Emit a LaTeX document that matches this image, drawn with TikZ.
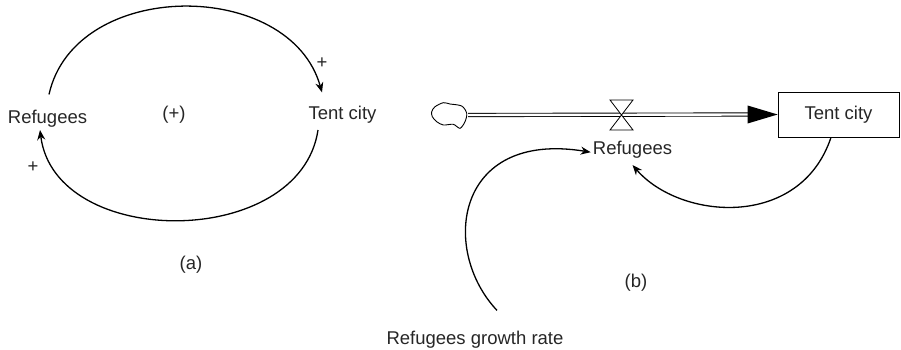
\documentclass[tikz,border=0pt]{standalone}
\usepackage{fontspec}
\setmainfont{Liberation Sans}
\usetikzlibrary{arrows.meta,positioning,calc}
\tikzset{
  lbl/.style={inner sep=2pt, text=black!85, font=\fontsize{18.5}{22}\selectfont},
  link/.style={-{Stealth[length=10pt,width=8pt]}, line width=1.3pt},
  stockbox/.style={draw, line width=0.8pt, minimum width=121pt, minimum height=45pt, inner sep=2pt, text=black!85, font=\fontsize{18.5}{22}\selectfont},
  pipe/.style={double, double distance=2.4pt, line width=0.9pt},
  valvebox/.style={draw, fill=white, line width=0.8pt},
  sourcecloud/.style={draw, fill=white, line width=0.9pt}
}

\begin{document}
\begin{tikzpicture}[x=1pt,y=-1pt]
  \useasboundingbox (0,0) rectangle (901,350);
  % (a) causal loop
  \node[lbl, anchor=base] (refA) at (47.5,123) {Refugees};
  \node[lbl, anchor=base] (tentA) at (342.5,120) {Tent city};
  \node[lbl, anchor=base] (loopA) at (174,119) {(+)};
  \node[lbl] (plusA) at (322,63) {+};
  \node[lbl] (plusB) at (33,167) {+};
  \node[lbl, anchor=base] (capA) at (191,269) {(a)};
  \draw[link] ([xshift=1.5pt,yshift=13pt]refA.north) .. controls (75,-22) and (290,-22) .. ([xshift=-20.5pt,yshift=12pt]tentA.north);
  \draw[link] ([xshift=-24.5pt,yshift=-4pt]tentA.south) .. controls (300,250) and (55,250) .. ([xshift=-7.5pt,yshift=-1pt]refA.south);

  % (b) stock and flow
  \node[stockbox] (stock) at (838.5,114.5) {Tent city};
  \node[lbl, anchor=base] (refB) at (632.5,154) {Refugees};
  \node[lbl, anchor=base] (growth) at (475,344) {Refugees growth rate};
  \node[lbl, anchor=base] (capB) at (636,287) {(b)};
  \node[minimum width=36pt, minimum height=26pt, inner sep=0pt] (src) at (450,115) {};
  \coordinate (valve) at (621.5,115);
  \draw[sourcecloud, shift={(src.center)}] plot[smooth cycle] coordinates {(-18.3,-3.3) (-15,-8.3) (-6.7,-12.3) (0,-11) (11.7,-9) (16.7,-1.7) (15,6.7) (10,13.3) (3.3,9.3) (-6.7,10) (-13.3,6.7) (-17.7,1.7)};
  \draw[pipe] (src.east) -- ([xshift=-28pt]stock.west);
  \fill ([xshift=-30pt,yshift=9pt]stock.west) -- (stock.west) -- ([xshift=-30pt,yshift=-9pt]stock.west) -- cycle;
  \filldraw[valvebox] (valve) ++(-11.5,-15) -- ++(23,0) -- ++(-23,30) -- ++(23,0) -- cycle;
  \draw[link] ([xshift=-7.5pt]stock.south) .. controls (800,230) and (680,220) .. ([yshift=-5pt]refB.south);
  \draw[link] ([xshift=22pt,yshift=18pt]growth.north) .. controls (440,250) and (455,130) .. ([yshift=-3pt]refB.west);
\end{tikzpicture}
\end{document}
